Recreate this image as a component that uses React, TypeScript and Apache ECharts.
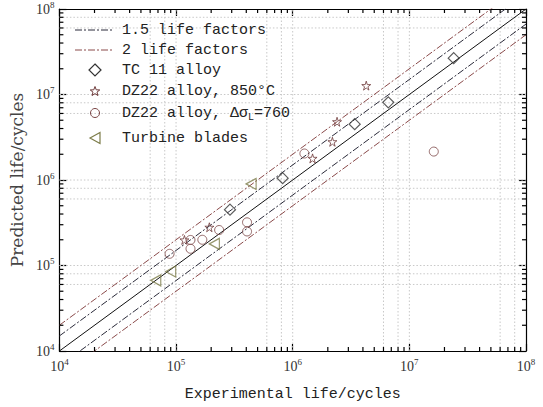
import React, { useEffect, useRef } from 'react';
import * as echarts from 'echarts';

// ---- data ----
const tc11X = [2.9e5, 8.2e5, 3.4e6, 6.6e6, 2.4e7];
const tc11Y = [4.5e5, 1.05e6, 4.5e6, 8.1e6, 2.66e7];
const dz850X = [1.18e5, 1.93e5, 1.48e6, 2.19e6, 2.4e6, 4.27e6];
const dz850Y = [1.99e5, 2.8e5, 1.79e6, 2.8e6, 4.8e6, 1.27e7];
const dz760X = [8.8e4, 1.33e5, 1.33e5, 1.68e5, 2.34e5, 4.06e5, 4.06e5, 1.26e6, 1.62e7];
const dz760Y = [1.37e5, 1.99e5, 1.57e5, 2.0e5, 2.6e5, 3.2e5, 2.5e5, 2.04e6, 2.15e6];
const bladeX = [6.7e4, 9.0e4, 2.13e5, 4.4e5];
const bladeY = [6.7e4, 8.5e4, 1.79e5, 9.0e5];

const axisMin = 1e4;
const axisMax = 1e8;
const decades = [1e4, 1e5, 1e6, 1e7];
const minorMults = [2, 3, 4, 5, 6, 7, 8, 9];
const gridMultsX = [6, 8, 10];
const gridMultsY = [6, 8, 10];
const factor15 = 1.5;
const factor2 = 2;

const legendLabels = ['1.5 life factors', '2 life factors', 'TC 11 alloy', 'DZ22 alloy, 850°C', 'DZ22 alloy, Δσ=760', 'Turbine blades'];

const C15 = '#2b2b3a';
const C2 = '#8a4a4a';
const CTC = '#333333';
const C850 = '#6e3a3a';
const C760 = '#7a4545';
const CBL = '#7d7d4a';

const STAR = 'path://M50,0 L61,35 L98,35 L68,57 L79,91 L50,70 L21,91 L32,57 L2,35 L39,35 Z';
const LEFT_TRI = 'path://M0,50 L100,0 L100,100 Z';

const zip = (xs: number[], ys: number[]) => xs.map((x, i) => [x, ys[i]]);
const factorLine = (f: number) => [[axisMin, axisMin * f], [axisMax, axisMax * f]];

function starPoints(cx: number, cy: number, r: number): number[][] {
  const pts: number[][] = [];
  for (let i = 0; i < 10; i++) {
    const rr = i % 2 === 0 ? r : r * 0.42;
    const a = -Math.PI / 2 + (i * Math.PI) / 5;
    pts.push([cx + rr * Math.cos(a), cy + rr * Math.sin(a)]);
  }
  return pts;
}

export default function App() {
  const ref = useRef<HTMLDivElement>(null);
  useEffect(() => {
    if (!ref.current) return;
    const chart = echarts.init(ref.current, null, { renderer: 'svg' });
    const minors: number[] = [];
    decades.forEach((d) => minorMults.forEach((m) => minors.push(d * m)));
    const gridX: number[] = [];
    decades.forEach((d) => gridMultsX.forEach((m) => { const v = d * m; if (v < axisMax) gridX.push(v); }));
    const gridY: number[] = [];
    decades.forEach((d) => gridMultsY.forEach((m) => { const v = d * m; if (v < axisMax) gridY.push(v); }));

    const tickLabel = {
      formatter: (v: number) => `{b|10}{e|${Math.round(Math.log10(v))}}`,
      rich: {
        b: { fontSize: 14, fontFamily: 'Liberation Serif', color: '#333' },
        e: { fontSize: 9, fontFamily: 'Liberation Serif', color: '#333', padding: [0, 0, 9, 0] },
      },
    };
    const axisCommon = {
      type: 'log' as const,
      logBase: 10,
      min: axisMin,
      max: axisMax,
      axisLine: { show: true, lineStyle: { color: '#000', width: 1.2 } },
      axisTick: { show: true, inside: true, length: 7, lineStyle: { color: '#000', width: 1.2 } },
      splitLine: { show: false },
      minorTick: { show: false },
    };

    const dashDot = [7, 2, 2, 2];
    const lineSeries = (name: string, f: number, color: string) => ({
      name,
      type: 'line',
      data: factorLine(f),
      symbol: 'none',
      lineStyle: { color, width: 1, type: dashDot },
      clip: true,
      z: 3,
    });

    const gridStyle = { stroke: '#c8c8c8', lineWidth: 1, lineDash: [1.5, 2] };

    // legend drawn as graphic
    const lx1 = 75, lx2 = 113, sx = 95, tx = 122;
    const rows = [30, 50, 70, 91, 113, 138];
    const textStyle = (text: string, y: number) => ({
      type: 'text',
      x: tx,
      y,
      style: {
        text,
        fontFamily: 'Liberation Mono',
        fontSize: 15,
        fill: '#222',
        verticalAlign: 'middle',
        rich: {
          t: { fontFamily: 'Liberation Mono', fontSize: 15, fill: '#222', color: '#222' },
          s: { fontFamily: 'Liberation Mono', fontSize: 10, fill: '#222', color: '#222', padding: [8, 0, 0, 0] },
        },
      },
      z: 10,
    });
    const graphics: any[] = [
      { type: 'line', shape: { x1: lx1, y1: rows[0], x2: lx2, y2: rows[0] }, style: { stroke: C15, lineWidth: 1, lineDash: dashDot }, z: 10 },
      { type: 'line', shape: { x1: lx1, y1: rows[1], x2: lx2, y2: rows[1] }, style: { stroke: C2, lineWidth: 1, lineDash: dashDot }, z: 10 },
      { type: 'polygon', shape: { points: [[sx, rows[2] - 6], [sx + 6, rows[2]], [sx, rows[2] + 6], [sx - 6, rows[2]]] }, style: { fill: 'none', stroke: CTC, lineWidth: 1.2 }, z: 10 },
      { type: 'polygon', shape: { points: starPoints(sx, rows[3] + 0.5, 5) }, style: { fill: 'none', stroke: C850, lineWidth: 1 }, z: 10 },
      { type: 'circle', shape: { cx: sx, cy: rows[4], r: 4.5 }, style: { fill: 'none', stroke: C760, lineWidth: 1 }, z: 10 },
      { type: 'polygon', shape: { points: [[sx - 5, rows[5]], [sx + 5, rows[5] - 5.5], [sx + 5, rows[5] + 5.5]] }, style: { fill: 'none', stroke: CBL, lineWidth: 1.2 }, z: 10 },
      textStyle(legendLabels[0], rows[0]),
      textStyle(legendLabels[1], rows[1]),
      textStyle(legendLabels[2], rows[2]),
      textStyle(legendLabels[3], rows[3]),
      textStyle('{t|DZ22 alloy, Δσ}{s|L}{t|=760}', rows[4]),
      textStyle(legendLabels[5], rows[5]),
    ];

    chart.setOption({
      animation: false,
      backgroundColor: '#fff',
      grid: { left: 56, top: 8, right: 17, bottom: 51 },
      graphic: graphics,
      xAxis: [
        {
          ...axisCommon,
          position: 'bottom',
          name: 'Experimental life/cycles',
          nameLocation: 'middle',
          nameGap: 36,
          nameTextStyle: { fontFamily: 'Liberation Mono', fontSize: 15, color: '#222' },
          axisLabel: { ...tickLabel, margin: 6 },
        },
        { ...axisCommon, position: 'top', axisLabel: { show: false } },
      ],
      yAxis: [
        {
          ...axisCommon,
          position: 'left',
          name: 'Predicted life/cycles',
          nameLocation: 'middle',
          nameGap: 32,
          nameTextStyle: { fontFamily: 'DejaVu Serif', fontSize: 17, color: '#444' },
          axisLabel: { ...tickLabel, margin: 5 },
        },
        { ...axisCommon, position: 'right', axisLabel: { show: false } },
      ],
      series: [
        {
          type: 'custom',
          name: 'gridX',
          data: gridX.map((v) => [v, axisMin]),
          z: 1,
          silent: true,
          renderItem: (_p: any, api: any) => {
            const v = api.value(0);
            const b = api.coord([v, axisMin]);
            const t = api.coord([v, axisMax]);
            return { type: 'line', shape: { x1: b[0], y1: b[1], x2: t[0], y2: t[1] }, style: gridStyle };
          },
        },
        {
          type: 'custom',
          name: 'gridY',
          data: gridY.map((v) => [axisMin, v]),
          z: 1,
          silent: true,
          renderItem: (_p: any, api: any) => {
            const v = api.value(1);
            const l = api.coord([axisMin, v]);
            const r = api.coord([axisMax, v]);
            return { type: 'line', shape: { x1: l[0], y1: l[1], x2: r[0], y2: r[1] }, style: gridStyle };
          },
        },
        {
          type: 'custom',
          name: 'minorX',
          data: minors.map((v) => [v, axisMin]),
          z: 5,
          silent: true,
          renderItem: (_p: any, api: any) => {
            const v = api.value(0);
            const b = api.coord([v, axisMin]);
            const t = api.coord([v, axisMax]);
            const st = { stroke: '#000', lineWidth: 1.2 };
            return {
              type: 'group',
              children: [
                { type: 'line', shape: { x1: b[0], y1: b[1], x2: b[0], y2: b[1] - 4 }, style: st },
                { type: 'line', shape: { x1: t[0], y1: t[1], x2: t[0], y2: t[1] + 4 }, style: st },
              ],
            };
          },
        },
        {
          type: 'custom',
          name: 'minorY',
          data: minors.map((v) => [axisMin, v]),
          z: 5,
          silent: true,
          renderItem: (_p: any, api: any) => {
            const v = api.value(1);
            const l = api.coord([axisMin, v]);
            const r = api.coord([axisMax, v]);
            const st = { stroke: '#000', lineWidth: 1.2 };
            return {
              type: 'group',
              children: [
                { type: 'line', shape: { x1: l[0], y1: l[1], x2: l[0] + 4, y2: l[1] }, style: st },
                { type: 'line', shape: { x1: r[0], y1: r[1], x2: r[0] - 4, y2: r[1] }, style: st },
              ],
            };
          },
        },
        lineSeries('1.5 life factors', factor15, C15),
        lineSeries('1.5 life factors', 1 / factor15, C15),
        lineSeries('2 life factors', factor2, C2),
        lineSeries('2 life factors', 1 / factor2, C2),
        {
          name: 'oneToOne',
          type: 'line',
          data: factorLine(1),
          symbol: 'none',
          lineStyle: { color: '#111', width: 1 },
          z: 3,
        },
        {
          name: 'TC 11 alloy',
          type: 'scatter',
          data: zip(tc11X, tc11Y),
          symbol: 'diamond',
          symbolSize: [11, 11],
          itemStyle: { color: 'rgba(255,255,255,0)', borderColor: CTC, borderWidth: 1.2 },
          z: 4,
        },
        {
          name: 'DZ22 alloy, 850°C',
          type: 'scatter',
          data: zip(dz850X, dz850Y),
          symbol: STAR,
          symbolSize: 9,
          itemStyle: { color: 'rgba(255,255,255,0)', borderColor: C850, borderWidth: 1 },
          z: 4,
        },
        {
          name: 'DZ22 alloy, Δσ=760',
          type: 'scatter',
          data: zip(dz760X, dz760Y),
          symbol: 'circle',
          symbolSize: 9,
          itemStyle: { color: 'rgba(255,255,255,0)', borderColor: C760, borderWidth: 1 },
          z: 4,
        },
        {
          name: 'Turbine blades',
          type: 'scatter',
          data: zip(bladeX, bladeY),
          symbol: LEFT_TRI,
          symbolSize: [10, 11],
          itemStyle: { color: 'rgba(255,255,255,0)', borderColor: CBL, borderWidth: 1.2 },
          z: 4,
        },
      ],
    });
    return () => chart.dispose();
  }, []);
  return <div ref={ref} style={{ width: 543, height: 407, position: 'absolute', left: 0, top: 0 }} />;
}
